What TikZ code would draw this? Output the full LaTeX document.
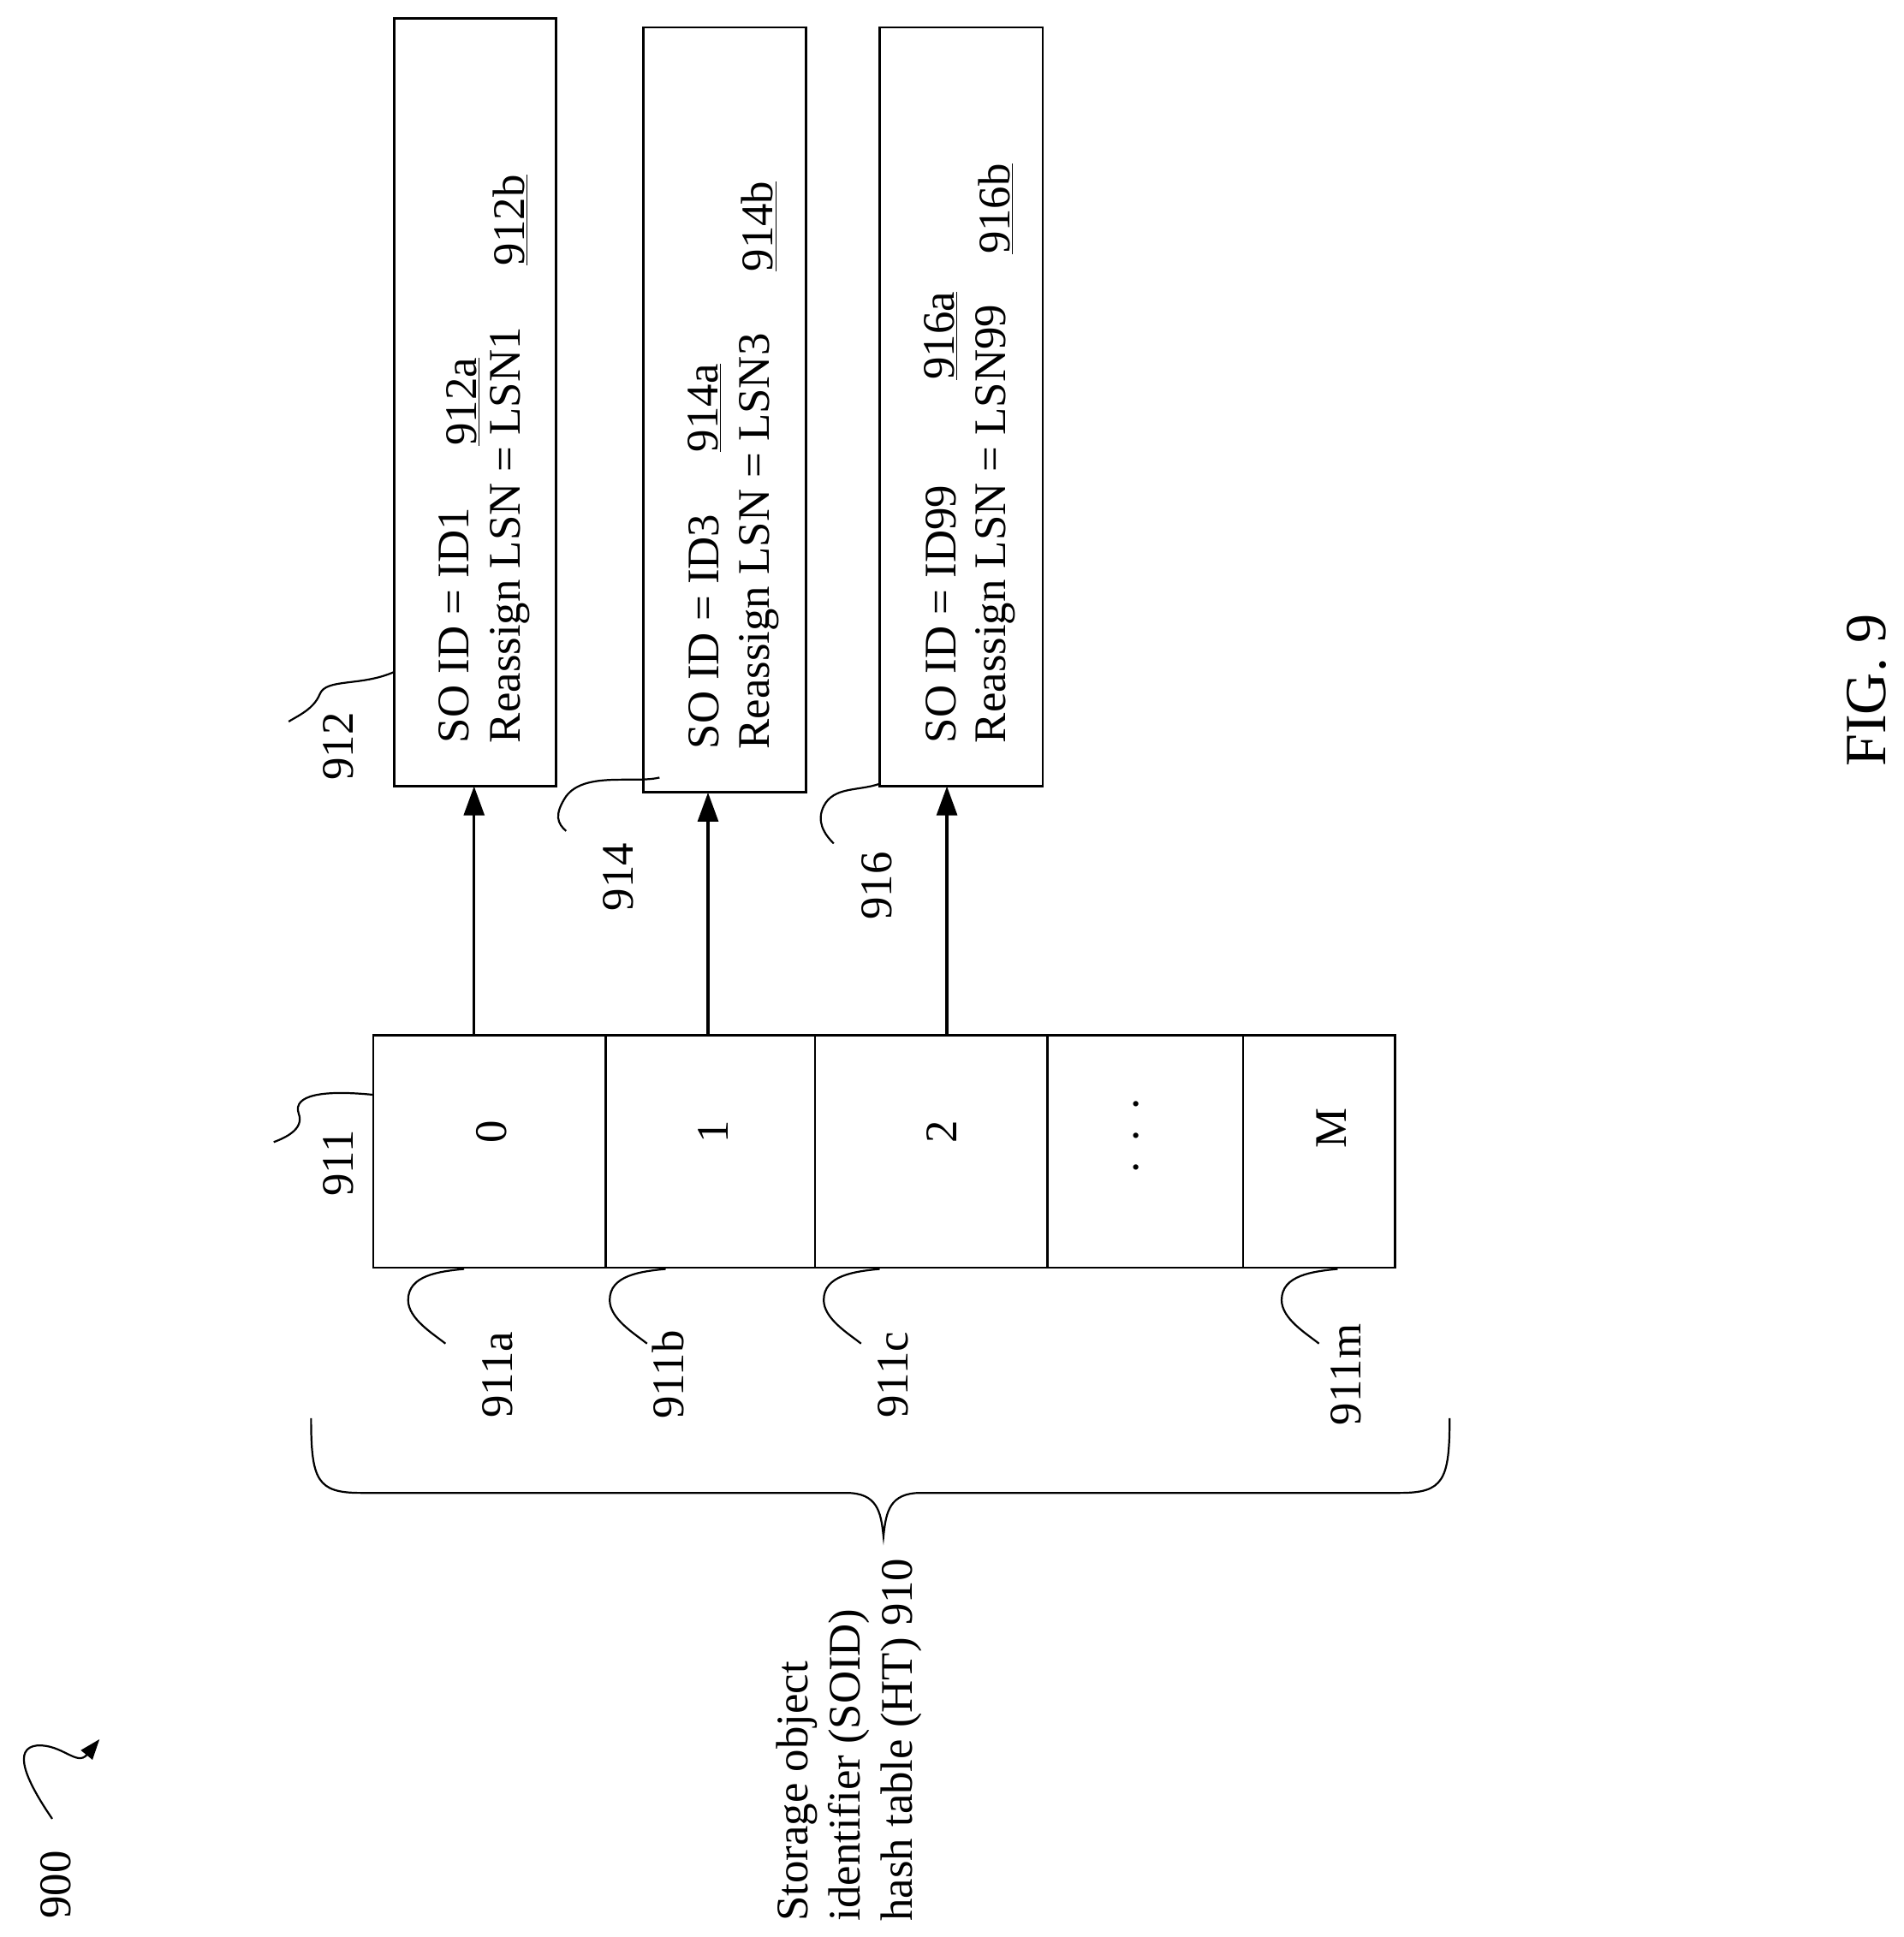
\documentclass[tikz,border=0pt]{standalone}
\usepackage{fontspec}
\setmainfont{Liberation Serif}
\usetikzlibrary{arrows.meta}
\begin{document}
\begin{tikzpicture}[x=0.03cm,y=-0.03cm,line width=1.3pt,
  t/.style={rotate=90,inner sep=0pt,font=\fontsize{31}{38}\selectfont},
  tl/.style={t,anchor=west},
  box/.style={draw,line width=1.6pt},
  arr/.style={-{Triangle[length=20pt,width=14pt]},line width=2pt},
  lead/.style={line width=1.3pt}]
\useasboundingbox (0,0) rectangle (1530,1557);
% boxes
\draw[box] (317,15) rectangle (447,632);
\draw[box] (517,22) rectangle (648,637);
\draw[box] (707,22) rectangle (838,632);
\node[tl] (a1) at (365,598) {SO ID = ID1};
\node[tl] (b1) at (410,598) {Reassign LSN = LSN1};
\node[t] (a1r) at (372,323) {\underline{912a}};
\node[t] (b1r) at (410,177) {\underline{912b}};
\node[tl] (a2) at (566,603) {SO ID = ID3};
\node[tl] (b2) at (610,603) {Reassign LSN = LSN3};
\node[t] (a2r) at (566,328) {\underline{914a}};
\node[t] (b2r) at (610,182) {\underline{914b}};
\node[tl] (a3) at (756,598) {SO ID = ID99};
\node[tl] (b3) at (800,598) {Reassign LSN = LSN99};
\node[t] (a3r) at (756,270) {\underline{916a}};
\node[t] (b3r) at (800,168) {\underline{916b}};
% table
\draw[box] (300,832) rectangle (1121,1019);
\foreach \x in {487,655,842,999} \draw[box] (\x,832) -- (\x,1019);
\node[t] (c0) at (395,910) {0};
\node[t] (c1) at (573,910) {1};
\node[t] (c2) at (757,910) {2};
\node[t] (c3) at (913,913) {.\hspace{14pt}.\hspace{14pt}.};
\node[t] (c4) at (1070,907) {M};
% arrows
\coordinate (s1) at (381,832); \coordinate (e1) at (381,632);
\coordinate (s2) at (569,832); \coordinate (e2) at (569,637);
\coordinate (s3) at (761,832); \coordinate (e3) at (761,632);
\draw[arr] (s1) -- (e1);
\draw[arr] (s2) -- (e2);
\draw[arr] (s3) -- (e3);
% labels with leaders
\node[t] (l911) at (272,935) {911};
\draw[lead] (300,880) .. controls (260,876) and (235,880) .. (240,895) .. controls (245,908) and (228,915) .. (220,918);
\node[t] (l912) at (272,600) {912};
\draw[lead] (317,540) .. controls (290,552) and (262,545) .. (257,558) .. controls (252,570) and (240,575) .. (232,580);
\node[t] (l914) at (497,705) {914};
\draw[lead] (530,625) .. controls (510,630) and (470,620) .. (455,640) .. controls (445,655) and (448,662) .. (455,668);
\node[t] (l916) at (705,712) {916};
\draw[lead] (707,630) .. controls (690,636) and (670,632) .. (662,648) .. controls (656,660) and (662,670) .. (670,678);
\foreach \n/\x/\lx in {a/373/400,b/535/537,c/707/718,m/1075/1082}{
  \node[t] (l911\n) at (\lx,1105) {911\n};
  \draw[lead] (\x,1020) .. controls (\x-20,1022) and (\x-45,1025) .. (\x-45,1045) .. controls (\x-45,1060) and (\x-25,1072) .. (\x-15,1080);
}
% brace
\draw[lead] (250,1140) .. controls (250,1190) and (255,1200) .. (290,1200) -- (680,1200) .. controls (705,1200) and (708,1215) .. (710,1235)
  .. controls (712,1215) and (715,1200) .. (740,1200) -- (1125,1200) .. controls (1160,1200) and (1165,1190) .. (1165,1140);
\node[t,anchor=north west,align=left,font=\fontsize{31}{36}\selectfont] (ht) at (623,1545) {Storage object\\identifier (SOID)\\hash table (HT) 910};
% 900
\node[t] (l900) at (45,1515) {900};
\draw[lead,-{Triangle[length=14pt,width=10pt]}] (42,1462) .. controls (20,1430) and (10,1405) .. (30,1403) .. controls (50,1402) and (62,1420) .. (80,1398);
\node[t,font=\fontsize{40}{48}\selectfont] (fig) at (1500,555) {FIG. 9};
\end{tikzpicture}
\end{document}
